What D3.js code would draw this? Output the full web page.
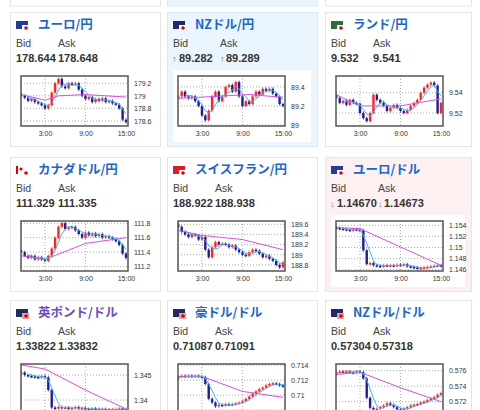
<!DOCTYPE html>
<html><head><meta charset="utf-8">
<script src="https://cdn.jsdelivr.net/npm/d3@7"></script>
<style>body{margin:0;background:#fff;font-family:"Liberation Sans","Noto Sans CJK JP",sans-serif}</style>
</head><body><svg id="c" width="480" height="410"></svg>
<script>
const titles=["ユーロ/円","NZドル/円","ランド/円","カナダドル/円","スイスフラン/円","ユーロ/ドル","英ポンド/ドル","豪ドル/ドル","NZドル/ドル"];
const bids=["178.644","89.282","9.532","111.329","188.922","1.14670","1.33822","0.71087","0.57304"];
const asks=["178.648","89.289","9.541","111.335","188.938","1.14673","1.33832","0.71091","0.57318"];
const arrows=["","up","","","","down","","",""];
const times=[-0.5,0,0.5,1,1.5,2,2.5,3,3.5,4,4.5,5,5.5,6,6.5,7,7.5,8,8.5,9,9.5,10,10.5,11,11.5,12,12.5,13,13.5,14,14.5,15];
const xTickLabels=["3:00","9:00","15:00"];
const firstOpen=[179.02,89.28,9.538,111.42,189.6,1.1536,1.3452,0.7122,0.5755];
const closes=[
[179.0,178.97,178.92,178.95,178.9,178.88,178.85,178.8,178.85,179.05,179.2,179.27,179.15,179.12,179.2,179.18,179.2,179.1,179.0,178.95,178.98,178.9,178.95,178.92,178.96,178.9,178.92,178.88,178.86,178.8,178.62,178.58],
[89.3,89.35,89.3,89.28,89.3,89.25,89.2,89.1,89.05,89.15,89.3,89.35,89.25,89.3,89.4,89.42,89.35,89.45,89.3,89.2,89.25,89.22,89.3,89.35,89.32,89.38,89.36,89.38,89.33,89.3,89.22,89.2],
[9.535,9.53,9.532,9.528,9.533,9.53,9.529,9.52,9.515,9.512,9.52,9.538,9.533,9.53,9.527,9.522,9.525,9.528,9.525,9.522,9.52,9.523,9.527,9.53,9.533,9.54,9.545,9.548,9.55,9.547,9.52,9.53],
[111.4,111.35,111.32,111.35,111.3,111.33,111.3,111.28,111.35,111.45,111.6,111.75,111.8,111.72,111.74,111.75,111.7,111.65,111.6,111.67,111.63,111.66,111.62,111.65,111.6,111.62,111.6,111.58,111.55,111.5,111.38,111.32],
[189.55,189.45,189.4,189.35,189.4,189.38,189.3,189.35,189.1,188.95,189.15,189.25,189.2,189.22,189.2,189.15,189.18,189.1,189.05,189.0,188.98,189.05,189.1,189.08,189.02,188.95,188.98,188.92,188.88,188.8,188.75,188.85],
[1.1535,1.1534,1.1533,1.1532,1.1531,1.1533,1.1532,1.1531,1.1495,1.1470,1.1472,1.1468,1.1467,1.1466,1.1468,1.1467,1.1468,1.1467,1.1469,1.1468,1.1470,1.1466,1.1465,1.1464,1.1463,1.1463,1.1464,1.1465,1.1466,1.1467,1.1468,1.1467],
[1.3455,1.345,1.3448,1.3447,1.3446,1.3445,1.3448,1.3445,1.342,1.3385,1.3383,1.3386,1.3384,1.3385,1.3383,1.3384,1.3386,1.3383,1.3384,1.3382,1.3381,1.3383,1.3382,1.3381,1.3382,1.3381,1.338,1.3381,1.3382,1.3383,1.3382,1.3382],
[0.7125,0.7126,0.7125,0.7126,0.7125,0.7126,0.7125,0.7124,0.7115,0.7095,0.709,0.7085,0.7087,0.7086,0.7088,0.7087,0.7088,0.7089,0.709,0.7092,0.7095,0.7098,0.7102,0.7105,0.7108,0.711,0.7113,0.7115,0.7116,0.7115,0.7113,0.7112],
[0.5758,0.5759,0.5758,0.5759,0.5758,0.5757,0.5759,0.5758,0.575,0.5725,0.5712,0.571,0.5711,0.5713,0.5715,0.5718,0.5716,0.5713,0.571,0.5709,0.5711,0.5713,0.5715,0.5716,0.5717,0.5719,0.572,0.5722,0.5724,0.5726,0.5729,0.5731]];
const longMA=[
[[-0.5,179.02],[3,178.93],[5,179.0],[9,179.02],[15,178.98]],
[[-0.5,89.28],[5,89.3],[10,89.32],[15,89.29]],
[[-0.5,9.538],[3,9.527],[9,9.527],[15,9.534]],
[[-0.5,111.35],[3,111.3],[9,111.52],[15,111.6]],
[[-0.5,189.48],[3,189.38],[9,189.3],[15,189.1]],
[[-0.5,1.1536],[3,1.1534],[15,1.1468]],
[[-0.5,1.3470],[3,1.3462],[9,1.3420],[15,1.3382]],
[[-0.5,0.7125],[3,0.7125],[9,0.7105],[15,0.7097]],
[[-0.5,0.5755],[3,0.5758],[9,0.5738],[15,0.5720]]];
const yDomains=[[178.52,179.315],[88.99,89.514],[9.5072,9.5565],[111.14,111.83],[188.68,189.665],[1.14577,1.15478],[1.3372,1.3472],[0.70747,0.71417],[0.57041,0.57686]];
const yTicks=[[179.2,179,178.8,178.6],[89.4,89.2,89],[9.54,9.52],[111.8,111.6,111.4,111.2],[189.6,189.4,189.2,189,188.8],[1.154,1.152,1.15,1.148,1.146],[1.345,1.34],[0.714,0.712,0.71,0.708],[0.576,0.574,0.572]];
const yFmt=[".1f",".1f",".2f",".1f",".1f",".3f",".3f",".3f",".3f"];

const svg=d3.select("#c");
const colX=[10,167,325], colW=[150,150,146], rowY=[12,157,300];
const bgs=["#fff","#eaf5fd","#fff","#fff","#fff","#fdf0f0","#fff","#fff","#fff"];
colX.forEach((x,i)=>svg.append("rect").attr("x",x+0.5).attr("y",-20).attr("width",colW[i]).attr("height",26).attr("fill",i==1?"#eaf5fd":"#fff").attr("stroke",i==1?"#dbe9f5":"#e4e4e4"));
const flagCols=[["#1f3d99","#fff"],["#1f2a66","#fff"],["#2a6e3a","#fff"],["#fff","#fff"],["#d91e2a","#fff"],["#1f3d99","#c33"],["#1f2a66","#c33"],["#1f2a66","#c33"],["#1f2a66","#c33"]];
for(let k=0;k<9;k++){
  const px=colX[k%3], py=rowY[Math.floor(k/3)], W=colW[k%3];
  const g=svg.append("g").attr("transform",`translate(${px},${py})`);
  g.append("rect").attr("x",0.5).attr("y",0.5).attr("width",W).attr("height",k<6?134:140).attr("fill",bgs[k]).attr("stroke",k==1?"#dbe9f5":k==5?"#f5e0e0":"#e4e4e4");
  g.append("rect").attr("x",6).attr("y",9).attr("width",12).attr("height",8).attr("fill",flagCols[k][0]);
  g.append("rect").attr("x",12).attr("y",13).attr("width",7).attr("height",6).attr("fill",k<6?"#fff":"#e8a0a0");
  g.append("circle").attr("cx",16).attr("cy",16).attr("r",1.8).attr("fill","#d00");
  if(k==3){g.append("rect").attr("x",6).attr("y",9).attr("width",2).attr("height",8).attr("fill","#d00");g.append("circle").attr("cx",11).attr("cy",12).attr("r",1.6).attr("fill","#d00");}
  g.append("text").attr("x",28).attr("y",17).text(titles[k]).attr("font-family","'Noto Sans CJK JP'").attr("font-size",12.5).attr("font-weight","bold").attr("fill",k==6?"#6a4bc4":"#1a66cc");
  const askX=arrows[k]?53:48;
  g.append("text").attr("x",6).attr("y",35).text("Bid").attr("font-size",10.5).attr("fill","#444");
  g.append("text").attr("x",askX).attr("y",35).text("Ask").attr("font-size",10.5).attr("fill","#444");
  let ox=0;
  if(arrows[k]){ox=6;
    const ac=arrows[k]=="up"?"#3a7bd5":"#d9534f", ch=arrows[k]=="up"?"↑":"↓";
    g.append("text").attr("x",5).attr("y",50).text(ch).attr("font-size",9).attr("fill",ac);
    g.append("text").attr("x",askX).attr("y",50).text(ch).attr("font-size",9).attr("fill",ac);}
  g.append("text").attr("x",6+ox).attr("y",50).text(bids[k]).attr("font-size",11).attr("font-weight","bold").attr("fill","#333");
  g.append("text").attr("x",askX+ox).attr("y",50).text(asks[k]).attr("font-size",11).attr("font-weight","bold").attr("fill","#333");
  g.append("rect").attr("x",6).attr("y",58).attr("width",W-12).attr("height",72).attr("fill","#fff");
  const x=d3.scaleLinear().domain([-0.55,15.3]).range([11,118]);
  const y=d3.scaleLinear().domain(yDomains[k]).range([114,64]);
  const cg=g.append("g");
  cg.append("defs").append("clipPath").attr("id","cp"+k).append("rect").attr("x",11).attr("y",64).attr("width",107).attr("height",50);
  const pl=cg.append("g").attr("clip-path",`url(#cp${k})`);
  yTicks[k].forEach(t=>pl.append("line").attr("x1",11).attr("x2",118).attr("y1",y(t)).attr("y2",y(t)).attr("stroke","#aaa").attr("stroke-dasharray","1,2"));
  [3,9].forEach(t=>pl.append("line").attr("x1",x(t)).attr("x2",x(t)).attr("y1",64).attr("y2",114).attr("stroke","#aaa").attr("stroke-dasharray","1,2"));
  const cs=closes[k];
  const data=cs.map((c,i)=>({t:times[i],o:i?cs[i-1]:firstOpen[k],c}));
  pl.selectAll(".wk").data(data).join("line").attr("x1",d=>x(d.t)).attr("x2",d=>x(d.t))
    .attr("y1",d=>y(Math.max(d.o,d.c))-1.5).attr("y2",d=>y(Math.min(d.o,d.c))+1.5).attr("stroke",d=>d.c>=d.o?"#f33":"#22229a").attr("stroke-width",0.8);
  pl.selectAll(".cd").data(data).join("rect").attr("x",d=>x(d.t)-1.2).attr("width",2.4)
    .attr("y",d=>y(Math.max(d.o,d.c))).attr("height",d=>Math.max(1.5,Math.abs(y(d.o)-y(d.c))))
    .attr("fill",d=>d.c>=d.o?"#f22":"#1e1e96");
  const ma=data.map((d,i)=>{const s=cs.slice(Math.max(0,i-3),i+1);return [d.t,d3.mean(s)];}).slice(2);
  const ln=d3.line().x(d=>x(d[0])).y(d=>y(d[1]));
  pl.append("path").attr("d",ln(longMA[k])).attr("fill","none").attr("stroke","#d94fe0").attr("stroke-width",1);
  pl.append("path").attr("d",ln(ma)).attr("fill","none").attr("stroke","#3cb8f0").attr("stroke-width",1);
  cg.append("rect").attr("x",11).attr("y",64).attr("width",107).attr("height",50).attr("fill","none").attr("stroke","#555").attr("stroke-width",1.5);
  const ya=d3.axisRight(y).tickValues(yTicks[k].filter(t=>py+y(t)<405)).tickSize(0).tickFormat(d=>+d3.format(yFmt[k])(d)+"");
  const ag=cg.append("g").attr("transform","translate(121,0)").call(ya);
  ag.select(".domain").remove();
  ag.selectAll("text").attr("font-size",7).attr("fill","#333").attr("font-family","Liberation Sans");
  if(k<6){
    const xa=d3.axisBottom(x).tickValues([3,9,15]).tickSize(0).tickFormat((d,i)=>xTickLabels[i]);
    const xg=cg.append("g").attr("transform","translate(0,116)").call(xa);
    xg.select(".domain").remove();
    xg.selectAll("text").attr("font-size",7).attr("fill","#333").attr("font-family","Liberation Sans");
  }
}
</script></body></html>
